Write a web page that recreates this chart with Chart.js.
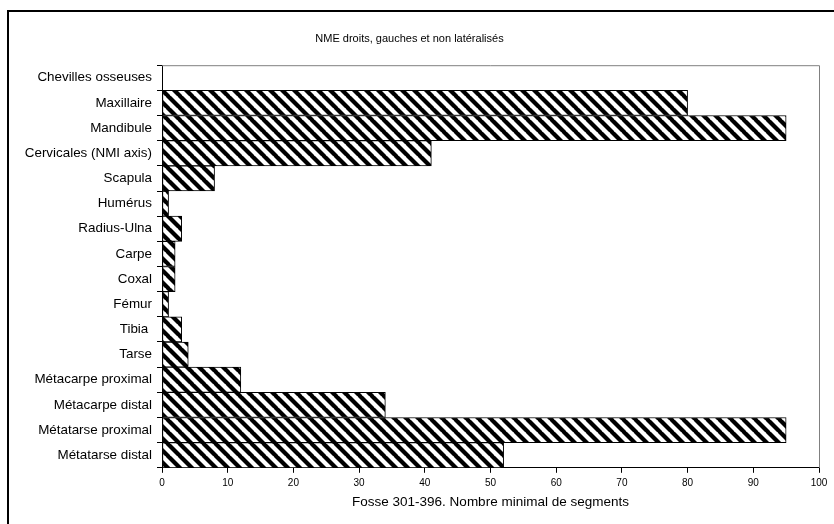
<!DOCTYPE html>
<html>
<head>
<meta charset="utf-8">
<script src="https://cdn.jsdelivr.net/npm/chart.js@4.4.1/dist/chart.umd.min.js"></script>
<style>
  html, body { margin: 0; padding: 0; background: #fff; overflow: hidden; }
  #frame { position: absolute; left: 7px; top: 10px; width: 900px; height: 600px; border: 2px solid #000; }
  #wrap { position: absolute; left: 0; top: 0; width: 834px; height: 524px; }
</style>
</head>
<body>
<div id="frame"></div>
<div id="wrap"><canvas id="chart" width="834" height="524"></canvas></div>
<script>
const categories = [
  'Chevilles osseuses', 'Maxillaire', 'Mandibule', 'Cervicales (NMI axis)', 'Scapula',
  'Humérus', 'Radius-Ulna', 'Carpe', 'Coxal', 'Fémur', 'Tibia ', 'Tarse',
  'Métacarpe proximal', 'Métacarpe distal', 'Métatarse proximal', 'Métatarse distal'
];
const nmeValues = [0, 80, 95, 41, 8, 1, 3, 2, 2, 1, 3, 4, 12, 34, 95, 52];
const xTicks = [0, 10, 20, 30, 40, 50, 60, 70, 80, 90, 100];

// diagonal hatch like the Excel pattern fill
function makeHatch() {
  const p = 12;
  const c = document.createElement('canvas');
  c.width = p; c.height = p;
  const g = c.getContext('2d');
  g.fillStyle = '#fff';
  g.fillRect(0, 0, p, p);
  g.strokeStyle = '#000';
  g.lineWidth = 4.2;
  for (const off of [-p, 0, p]) {
    g.beginPath();
    g.moveTo(off - 1, -1);
    g.lineTo(off + p + 1, p + 1);
    g.stroke();
  }
  return g.createPattern(c, 'repeat');
}

const plotBorder = {
  id: 'plotBorder',
  afterDatasetsDraw(chart) {
    const { ctx, chartArea: a } = chart;
    ctx.save();
    ctx.strokeStyle = '#808080';
    ctx.lineWidth = 1;
    ctx.beginPath();
    ctx.moveTo(a.left, a.top + 0.5);
    ctx.lineTo(a.right + 0.5, a.top + 0.5);
    ctx.lineTo(a.right + 0.5, a.bottom);
    ctx.stroke();
    ctx.restore();
  }
};

const ctx = document.getElementById('chart');
new Chart(ctx, {
  type: 'bar',
  data: {
    labels: categories,
    datasets: [{
      data: nmeValues,
      backgroundColor: makeHatch(),
      borderColor: '#000',
      borderWidth: 1,
      borderSkipped: false,
      barPercentage: 1,
      categoryPercentage: 1
    }]
  },
  options: {
    indexAxis: 'y',
    responsive: false,
    animation: false,
    layout: { padding: { left: 0, right: 15, top: 0, bottom: 14 } },
    plugins: {
      legend: { display: false },
      tooltip: { enabled: false },
      title: {
        display: true,
        text: 'NME droits, gauches et non latéralisés',
        color: '#000',
        font: { family: 'Liberation Sans', size: 11, weight: 'normal' },
        padding: { top: 32, bottom: 20 }
      }
    },
    scales: {
      x: {
        min: 0,
        max: 100,
        afterBuildTicks(scale) { scale.ticks = xTicks.map(v => ({ value: v })); },
        grid: { drawOnChartArea: false, color: '#000', tickLength: 5 },
        border: { color: '#000', width: 1 },
        ticks: {
          color: '#000',
          padding: 4,
          maxRotation: 0,
          font: { family: 'Liberation Sans', size: 10 }
        },
        title: {
          display: true,
          text: 'Fosse 301-396. Nombre minimal de segments',
          color: '#000',
          font: { family: 'Liberation Sans', size: 13.5 },
          padding: { top: 1, bottom: 0 }
        }
      },
      y: {
        afterFit(scale) { scale.width = 162; },
        grid: { drawOnChartArea: false, color: '#000', tickLength: 5, offset: true },
        border: { color: '#000', width: 1 },
        ticks: {
          color: '#000',
          padding: 5,
          autoSkip: false,
          font: { family: 'Liberation Sans', size: 13.4 }
        }
      }
    }
  },
  plugins: [plotBorder]
});
</script>
</body>
</html>
